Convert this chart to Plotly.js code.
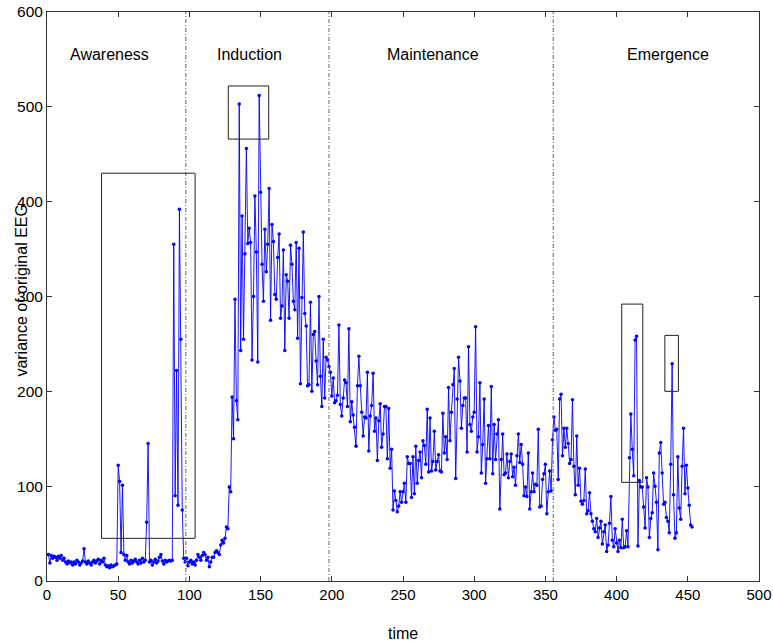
<!DOCTYPE html>
<html>
<head>
<meta charset="utf-8">
<script src="https://cdn.plot.ly/plotly-3.0.1.min.js"></script>
<style>html,body{margin:0;padding:0;background:#fff;}#chart{width:773px;height:642px;}</style>
</head>
<body>
<div id="chart"></div>
<script>
// EEG variance per time step, split by anaesthesia phase (t = 1..453)
var awareness = [
  28,19,27,24,26,25,22,26,24,27,
  22,24,20,18,21,19,20,17,20,18,
  22,20,17,19,21,34,20,18,21,19,
  17,20,22,19,21,23,18,22,20,24,
  17,15,16,14,17,15,16,17,18,122,
  105,30,101,28,22,27,20,18,22,19,
  21,23,20,18,22,19,24,20,22,62,
  145,20,22,17,20,23,19,21,25,28,
  21,18,22,20,21,22,21,22,355,90,
  222,80,392,255,75,24,20,24
];
var induction = [
  16,20,22,18,20,17,22,28,25,22,
  27,30,28,22,25,15,20,25,25,30,
  32,30,28,38,43,40,
  45,57,55,99,94,194,150,297,190,170,
  503,243,385,255,345,456,356,372,357,233,
  300,406,347,231,512,410,334,295,371,326,
  355,414,275,376,358,302,297,341,366,277,
  290,349,243,323,316,277,354,334,295,286,
  357,256,351,208,299,368,282,269,206,207,
  294,200,260,263,232,207,300,216,184,255,
  193,236,233,226
];
var maintenance = [
  220,195,214,188,190,196,270,186,174,193,
  212,209,184,266,168,189,175,162,142,206,
  237,206,178,153,173,172,220,137,174,185,
  219,158,172,127,169,187,141,155,184,184,
  129,182,119,139,75,95,85,73,79,94,
  83,94,103,83,131,124,124,88,131,92,
  142,103,127,136,109,148,143,123,181,115,
  172,116,126,158,117,126,133,116,115,177,
  135,152,128,204,148,178,207,224,108,192,
  236,211,161,185,193,193,136,247,165,158,
  173,178,268,136,152,209,114,144,192,103,
  129,164,129,205,113,165,128,155,170,76,
  128,155,112,114,134,109,126,134,110,120,
  101,132,155,125,144,123,90,99,89,135,
  76,94,114,94,102,101,160,78,79,107,
  113,123,71,94,116,95,149
];
var emergence = [
  173,159,160,107,192,197,132,161,141,161,
  145,124,128,191,121,91,153,101,119,84,
  81,85,118,71,74,93,71,63,55,52,
  66,46,56,63,39,52,59,31,38,61,
  89,43,36,55,40,31,43,35,65,35,
  36,53,36,130,176,139,111,254,258,37,
  106,99,99,78,56,109,99,46,66,72,
  114,100,83,33,135,146,114,81,83,67,
  63,51,123,229,91,45,51,131,77,65,
  121,161,92,122,98,80,59,57
];

// phase boundaries (time) and labels
var phaseBounds = [97.5, 198, 355.5];
var phaseLabels = ["Awareness", "Induction", "Maintenance", "Emergence"];
var phaseLabelX = [44, 142.5, 271, 436];
var phaseLabelY = 555;

// highlight boxes [t0, t1, v0, v1]
var boxT0 = [38.3, 127.3, 403.6, 433.9];
var boxT1 = [104, 155.7, 418.4, 443.4];
var boxV0 = [45, 466, 104, 200];
var boxV1 = [430, 522, 292, 259];

var xTicks = [0,50,100,150,200,250,300,350,400,450,500];
var yTicks = [0,100,200,300,400,500,600];

var values = awareness.concat(induction, maintenance, emergence);
var times = values.map(function(v, i){ return i + 1; });

var FONT = "Liberation Sans, Arial, Helvetica, sans-serif";

var shapes = [];
phaseBounds.forEach(function(b){
  shapes.push({type:"line", xref:"x", yref:"paper", x0:b, x1:b, y0:0, y1:1,
    line:{color:"#666", width:1, dash:"4px,2px,1px,2px"}});
});
for (var i = 0; i < boxT0.length; i++) {
  shapes.push({type:"rect", xref:"x", yref:"y", x0:boxT0[i], x1:boxT1[i], y0:boxV0[i], y1:boxV1[i],
    line:{color:"#222", width:1}, fillcolor:"rgba(0,0,0,0)"});
}

var annotations = phaseLabels.map(function(t, i){
  return {text:t, x:phaseLabelX[i], y:phaseLabelY, xref:"x", yref:"y", showarrow:false,
    font:{family:FONT, size:16, color:"#000"}, xanchor:"center", yanchor:"middle"};
});
annotations.push({text:"time", xref:"paper", yref:"paper", x:0.5, y:-0.092, showarrow:false,
  font:{family:FONT, size:16, color:"#000"}, xanchor:"center", yanchor:"middle"});
annotations.push({text:"variance of original EEG", xref:"paper", yref:"paper", x:-0.036, y:0.511,
  textangle:-90, showarrow:false, font:{family:FONT, size:16, color:"#000"},
  xanchor:"center", yanchor:"middle"});

var trace = {
  x: times, y: values, type:"scatter", mode:"lines+markers",
  line:{color:"rgb(0,0,255)", width:0.9},
  marker:{color:"rgb(0,0,255)", size:3.5, symbol:"circle"},
  hoverinfo:"skip"
};

var layout = {
  width:773, height:642,
  margin:{l:47, r:14, t:12, b:61, pad:0},
  paper_bgcolor:"#fff", plot_bgcolor:"#fff",
  showlegend:false,
  font:{family:FONT, size:15, color:"#000"},
  xaxis:{range:[0,500], tickvals:xTicks, ticktext:xTicks.map(String), ticks:"inside", ticklen:5,
    tickcolor:"#333", showline:true, linecolor:"#333", linewidth:1, mirror:"ticks",
    ticklabeloverflow:"allow",
    showgrid:false, zeroline:false, tickfont:{family:FONT, size:15, color:"#000"}},
  yaxis:{range:[0,600], tickvals:yTicks, ticktext:yTicks.map(String), ticks:"inside", ticklen:5,
    tickcolor:"#333", showline:true, linecolor:"#333", linewidth:1, mirror:"ticks",
    ticklabeloverflow:"allow",
    showgrid:false, zeroline:false, tickfont:{family:FONT, size:15.5, color:"#000"}},
  shapes:shapes,
  annotations:annotations
};

Plotly.newPlot("chart", [trace], layout, {displayModeBar:false, staticPlot:true});
</script>
</body>
</html>
